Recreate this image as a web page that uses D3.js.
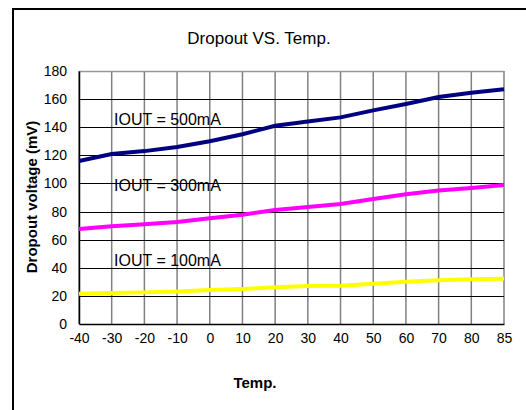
<!DOCTYPE html>
<html>
  <head>
    <title>Dropout VS. Temp.</title>
    <script src="https://d3js.org/d3.v7.min.js"></script>
    <style>
      body { margin: 0; background: #fff; }
      text { font-family: "Liberation Sans", Arial, sans-serif; fill: #000; }
      .tick text { font-size: 14px; }
      .axis-title { font-size: 15px; font-weight: bold; }
      .chart-title { font-size: 17px; }
      .series-label { font-size: 16px; }
    </style>
  </head>
  <body>
    <svg width="526" height="410"></svg>
    <script>
      const temps = ["-40", "-30", "-20", "-10", "0", "10", "20", "30", "40", "50", "60", "70", "80", "85"];
      const iout500 = [116, 121, 123, 126, 130, 135, 141, 144, 147, 152, 156.5, 161.5, 164.5, 167];
      const iout300 = [67.6, 69.5, 71, 72.6, 75.2, 77.8, 81.1, 83.2, 85.4, 88.9, 92.3, 94.9, 96.8, 98.9];
      const iout100 = [21.6, 22, 22.5, 23.2, 24.2, 24.9, 26.1, 27, 27.3, 28.7, 30.1, 31.1, 31.8, 32.2];
      const yTicks = [0, 20, 40, 60, 80, 100, 120, 140, 160, 180];
      const seriesNames = ["IOUT = 500mA", "IOUT = 300mA", "IOUT = 100mA"];
      const seriesColors = ["#000080", "#ff00ff", "#ffff00"];

      const svg = d3.select("svg");
      const plotLeft = 79, plotRight = 504, plotTop = 71, plotBottom = 324;

      // outer frame (only top and left edges show)
      svg.append("line").attr("x1", 13).attr("x2", 526).attr("y1", 9).attr("y2", 9)
        .attr("stroke", "#000").attr("stroke-width", 2);
      svg.append("line").attr("x1", 13).attr("x2", 13).attr("y1", 8).attr("y2", 410)
        .attr("stroke", "#000").attr("stroke-width", 2);

      const x = d3.scalePoint().domain(temps).range([plotLeft, plotRight]);
      const y = d3.scaleLinear().domain([0, 180]).range([plotBottom, plotTop]);

      // grid
      svg.append("g").selectAll("line").data(temps).join("line")
        .attr("x1", d => x(d)).attr("x2", d => x(d))
        .attr("y1", plotTop).attr("y2", plotBottom)
        .attr("stroke", "#808080").attr("stroke-width", 1.5);
      svg.append("g").selectAll("line").data(yTicks.slice(1, -1)).join("line")
        .attr("x1", plotLeft).attr("x2", plotRight)
        .attr("y1", d => Math.round(y(d)) + 0.5).attr("y2", d => Math.round(y(d)) + 0.5)
        .attr("stroke", "#000");
      svg.append("line").attr("x1", plotLeft).attr("x2", plotRight)
        .attr("y1", plotTop + 0.5).attr("y2", plotTop + 0.5).attr("stroke", "#999").attr("stroke-width", 1.5);

      // axes
      const yAxis = svg.append("g")
        .attr("transform", `translate(${plotLeft},0)`)
        .call(d3.axisLeft(y).tickValues(yTicks).tickSize(0).tickPadding(12));
      yAxis.select(".domain").attr("stroke", "#000").attr("stroke-width", 1.5);

      const xAxis = svg.append("g")
        .attr("transform", `translate(0,${plotBottom})`)
        .call(d3.axisBottom(x).tickSize(0).tickPadding(9));
      xAxis.select(".domain").attr("stroke", "#000").attr("stroke-width", 1.5);

      // series
      const line = d3.line().x((d, i) => x(temps[i])).y(d => y(d));
      [iout500, iout300, iout100].forEach((s, k) => {
        svg.append("path").datum(s)
          .attr("fill", "none")
          .attr("stroke", seriesColors[k])
          .attr("stroke-width", 4)
          .attr("d", line);
      });

      // series labels
      const labelY = [119, 185, 260];
      svg.append("g").selectAll("text").data(seriesNames).join("text")
        .attr("class", "series-label")
        .attr("x", 114)
        .attr("y", (d, i) => labelY[i])
        .attr("dy", "0.35em")
        .text(d => d);

      // titles
      svg.append("text").attr("class", "chart-title")
        .attr("x", 259).attr("y", 38).attr("dy", "0.35em")
        .attr("text-anchor", "middle").text("Dropout VS. Temp.");
      svg.append("text").attr("class", "axis-title")
        .attr("x", 255).attr("y", 383).attr("dy", "0.35em")
        .attr("text-anchor", "middle").text("Temp.");
      svg.append("text").attr("class", "axis-title")
        .attr("transform", "translate(32,197) rotate(-90)")
        .attr("dy", "0.35em")
        .attr("text-anchor", "middle").text("Dropout voltage (mV)");
    </script>
  </body>
</html>
